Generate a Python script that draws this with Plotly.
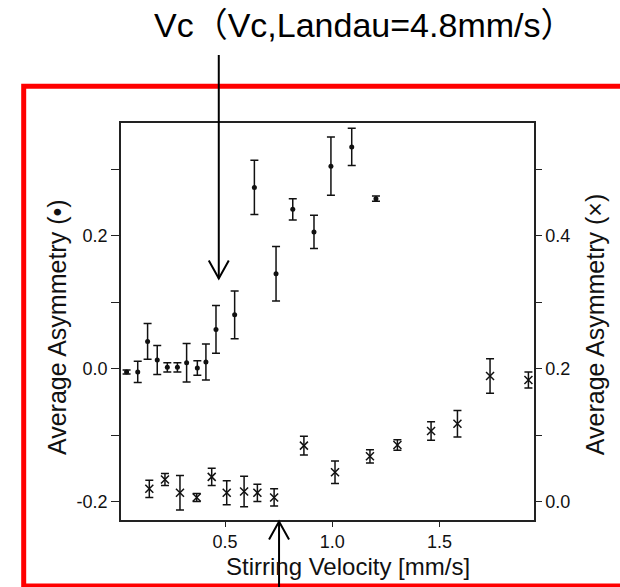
import plotly.graph_objects as go

# Stirring velocity [mm/s] and average asymmetry for the dot series (left axis)
velocity_dot = [0.041, 0.093, 0.139, 0.184, 0.231, 0.278, 0.321, 0.371, 0.411,
                0.458, 0.545, 0.637, 0.738, 0.816, 0.915, 0.994, 1.091, 1.204]
asym_dot = [-0.005, -0.005, 0.041, 0.013, 0.002, 0.002, 0.009, 0.001, 0.010,
            0.059, 0.081, 0.273, 0.143, 0.240, 0.206, 0.305, 0.334, 0.256]
err_dot = [0.003, 0.016, 0.027, 0.022, 0.007, 0.007, 0.029, 0.011, 0.027,
           0.036, 0.036, 0.041, 0.041, 0.016, 0.025, 0.044, 0.028, 0.004]

# Cross series (right axis)
velocity_x = [0.147, 0.220, 0.290, 0.368, 0.438, 0.508, 0.589, 0.651, 0.729,
              0.868, 1.013, 1.176, 1.304, 1.461, 1.584, 1.736, 1.915]
asym_x = [0.019, 0.033, 0.013, 0.006, 0.037, 0.013, 0.015, 0.013, 0.006,
          0.084, 0.044, 0.068, 0.085, 0.106, 0.117, 0.189, 0.183]
err_x = [0.013, 0.009, 0.026, 0.006, 0.013, 0.018, 0.023, 0.013, 0.013,
         0.014, 0.017, 0.010, 0.008, 0.014, 0.020, 0.026, 0.012]

# Critical-velocity markers (down arrow for dots, up arrow for crosses)
vc_arrows = [0.471, 0.752]

x_ticks = [0.5, 1.0, 1.5]
x_ticktext = ["0.5", "1.0", "1.5"]
y_left_ticks = [-0.2, -0.1, 0.0, 0.1, 0.2, 0.3]
y_left_text = ["-0.2", "", "0.0", "", "0.2", ""]
y_right_ticks = [0.0, 0.1, 0.2, 0.3, 0.4, 0.5]
y_right_text = ["0.0", "", "0.2", "", "0.4", ""]

INK = "#111111"
FONT = "Liberation Sans, Arial, Noto Sans CJK JP, sans-serif"

X_RANGE = [0.015, 1.941]
PLOT_W, PLOT_H = 413, 397  # plot area in pixels

fig = go.Figure()

fig.add_trace(go.Scatter(
    x=velocity_dot, y=asym_dot, mode="markers",
    marker=dict(symbol="circle", size=5, color=INK),
    error_y=dict(type="data", array=err_dot, visible=True,
                 color=INK, thickness=1.5, width=4),
    showlegend=False, yaxis="y",
))

fig.add_trace(go.Scatter(
    x=velocity_x, y=asym_x, mode="markers",
    marker=dict(symbol="x-thin-open", size=8, color=INK,
                line=dict(color=INK, width=1.5)),
    error_y=dict(type="data", array=err_x, visible=True,
                 color=INK, thickness=1.5, width=4),
    showlegend=False, yaxis="y2",
))

axis_common = dict(
    showline=True, linecolor="#222222", linewidth=1.5,
    ticks="outside", tickcolor="#222222", tickwidth=1.2,
    showgrid=False, zeroline=False,
    tickfont=dict(family=FONT, size=18, color=INK),
)

fig.update_layout(
    width=620, height=587, autosize=False,
    margin=dict(l=121, r=86, t=123, b=67, pad=0),
    paper_bgcolor="white", plot_bgcolor="white",
    xaxis=dict(range=X_RANGE, tickvals=x_ticks, ticktext=x_ticktext,
               mirror=True, ticklen=5, **axis_common),
    yaxis=dict(range=[-0.228, 0.370], tickvals=y_left_ticks,
               ticktext=y_left_text, ticklen=8, **axis_common),
    yaxis2=dict(range=[-0.028, 0.570], tickvals=y_right_ticks,
                ticktext=y_right_text, ticklen=6, overlaying="y",
                side="right", **axis_common),
)

# Outer red frame
fig.add_shape(type="rect", xref="paper", yref="paper",
              x0=-0.2356, x1=1.22, y0=-0.166, y1=1.0924,
              line=dict(color="#ff0000", width=5), layer="below")

title_font = dict(family=FONT, size=25, color=INK)
fig.add_annotation(text="Average Asymmetry (•)", xref="paper", yref="paper",
                   x=-0.155, y=0.486, textangle=-90, showarrow=False,
                   xanchor="center", yanchor="middle", font=title_font)
fig.add_annotation(text="Average Asymmetry (×)", xref="paper", yref="paper",
                   x=1.148, y=0.491, textangle=-90, showarrow=False,
                   xanchor="center", yanchor="middle", font=title_font)
fig.add_annotation(text="Stirring Velocity [mm/s]", xref="paper", yref="paper",
                   x=0.5496, y=-0.118, showarrow=False,
                   xanchor="center", yanchor="middle",
                   font=dict(family=FONT, size=24, color=INK))

fig.add_annotation(text="Vc（Vc,Landau=4.8mm/s）", xref="paper", yref="paper",
                   x=0.5877, y=1.2469, showarrow=False,
                   xanchor="center", yanchor="middle",
                   font=dict(family=FONT, size=34, color="black"))

# Arrows marking the critical velocity: a shaft plus an open "V" head
head_dx = 10 / PLOT_W * (X_RANGE[1] - X_RANGE[0])  # half-width of head, data units
head_dy = 18 / PLOT_H                               # head length, paper units
arrow_line = dict(color="black", width=2)


def add_arrow(x, tip_y, tail_y):
    direction = 1 if tail_y > tip_y else -1
    fig.add_shape(type="line", xref="x", yref="paper",
                  x0=x, x1=x, y0=tail_y, y1=tip_y, line=arrow_line)
    back = tip_y + direction * head_dy
    fig.add_shape(type="path", xref="x", yref="paper",
                  path=f"M {x - head_dx},{back} L {x},{tip_y} L {x + head_dx},{back}",
                  line=arrow_line)


add_arrow(vc_arrows[0], tip_y=(520 - 278.5) / PLOT_H, tail_y=(520 - 55) / PLOT_H)
add_arrow(vc_arrows[1], tip_y=(520 - 521.5) / PLOT_H, tail_y=(520 - 600) / PLOT_H)

fig.write_html("out.html")
